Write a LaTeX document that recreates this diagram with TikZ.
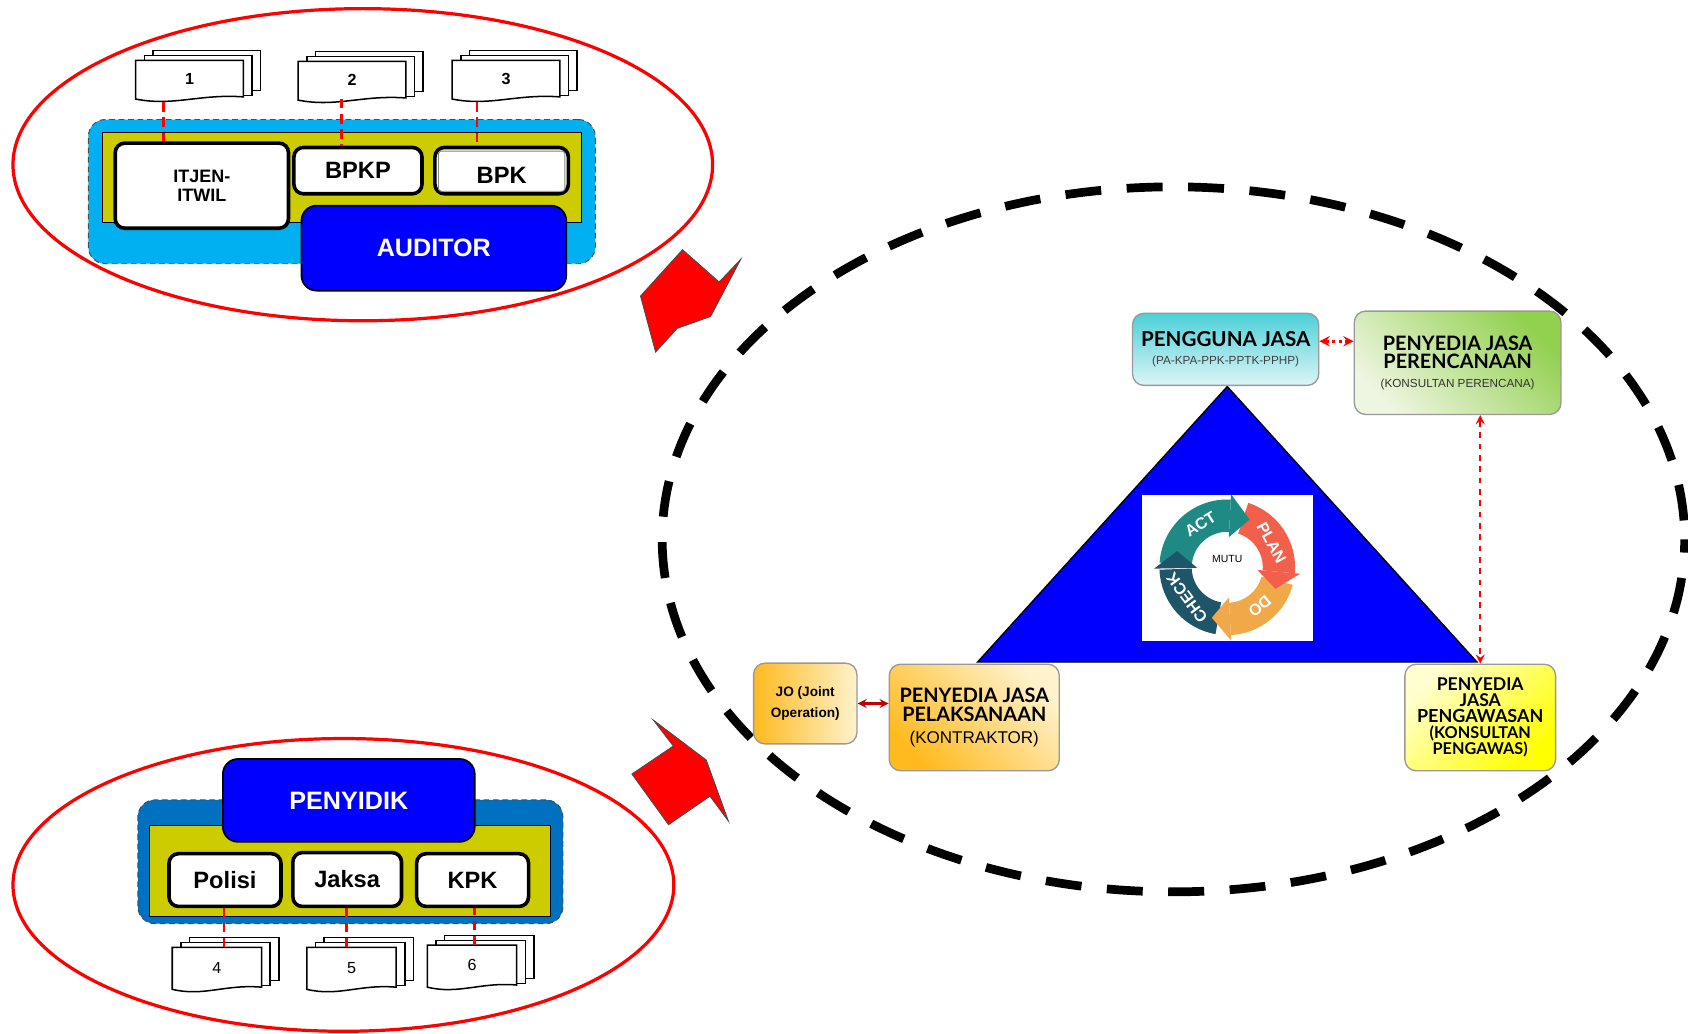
\documentclass[tikz,border=0pt]{standalone}
\usepackage{fontspec}
\setmainfont{Liberation Sans}
\newfontfamily\gillfont{Lato}
\usetikzlibrary{shapes.geometric}
\usetikzlibrary{arrows}
\definecolor{auditblue}{HTML}{00B0F0}
\definecolor{policeblue}{HTML}{0070C0}
\definecolor{olivefill}{HTML}{CCCC00}
\definecolor{actcol}{HTML}{1F8A84}
\definecolor{plancol}{HTML}{F2604C}
\definecolor{docol}{HTML}{F0A848}
\definecolor{checkcol}{HTML}{1F5568}
\definecolor{userdark}{HTML}{4DD0D8}
\definecolor{userlight}{HTML}{DDF5F7}
\definecolor{plandark}{HTML}{92D050}
\definecolor{planlight}{HTML}{EEF5E0}
\definecolor{builddark}{HTML}{FFBA1F}
\definecolor{buildlight}{HTML}{FFF2CC}
\definecolor{watchlight}{HTML}{FFFFD0}

% one stack of three pages: name, x, y, width, height, number
\newcommand{\docstack}[6]{
  \draw[docpage] (#2+16,#3-9) rectangle ++(#4,#5);
  \draw[docpage] (#2+8,#3-4.5) rectangle ++(#4,#5);
  \draw[docpage] (#2,#3) -- ++(#4,0) -- ++(0,#5-3)
     .. controls (#2+0.6*#4,#3+#5-6) and (#2+0.35*#4,#3+#5+6) .. (#2,#3+#5-1) -- cycle;
  \node[docnum] (#1) at (#2+0.5*#4,#3+0.47*#5) {#6};
}
% ring body and ring head of the cycle: start angle, end angle, colour
\newcommand{\ringbody}[3]{
  \fill[#3] (#1:63) arc[start angle=#1,end angle=#2,radius=63] -- (#2:33)
     arc[start angle=#2,end angle=#1,radius=33] -- cycle;
}
\newcommand{\ringhead}[3]{
  \fill[#3] (#1:28) -- (#1:68) -- (#2:49) -- cycle;
}

\begin{document}
\begin{tikzpicture}[
            x = 0.02cm,
            y = -0.02cm,
            > = stealth, % arrow head style
            semithick % line style
        ]

        \tikzstyle{groupring}=[draw = red, line width = 1.7pt]
        \tikzstyle{groupback}=[draw = black!70, densely dashed, line width = 0.5pt, rounded corners = 9pt]
        \tikzstyle{oliveback}=[draw = black, fill = olivefill, line width = 0.5pt]
        \tikzstyle{whitebox}=[draw = black, fill = white, line width = 1.9pt, rounded corners = 5pt,
            inner sep = 0pt, align = center, font = \bfseries\fontsize{12.5}{13}\selectfont]
        \tikzstyle{bluebox}=[draw = black, fill = blue, line width = 0.9pt, rounded corners = 8pt,
            text = white, font = \bfseries\fontsize{13.3}{14}\selectfont]
        \tikzstyle{docpage}=[draw = black, fill = white, line width = 0.8pt]
        \tikzstyle{docnum}=[inner sep = 0pt, font = \fontsize{8.5}{9}\selectfont]
        \tikzstyle{redlink}=[draw = red, dash pattern = on 5pt off 3pt, line width = 1.4pt]
        \tikzstyle{bigarrow}=[draw = black!70, fill = red, line width = 0.5pt]
        \tikzstyle{partybox}=[draw = black!40, line width = 0.7pt, rounded corners = 6pt,
            inner sep = 0pt, align = center, font = \gillfont\bfseries\fontsize{10.5}{9.7}\selectfont]
        \tikzstyle{pdcatext}=[inner sep = 0pt, text = white, font = \bfseries\fontsize{8.5}{8.5}\selectfont]

        \useasboundingbox (0,0) rectangle (1568,959.6);

	% auditor group
        \node[groupring, ellipse, minimum width = 13cm, minimum height = 5.8cm] (ringA) at (337,153) {};
        \node[groupback, fill = auditblue, minimum width = 9.42cm, minimum height = 2.68cm] (backA) at (317.5,178) {};
        \node[oliveback, minimum width = 8.9cm, minimum height = 1.68cm] (oliveA) at (317.5,165) {};
        \node[whitebox, minimum width = 3.22cm, minimum height = 1.58cm, font = \bfseries\fontsize{9.5}{10.2}\selectfont] (itjen) at (187.5,172.5) {ITJEN-\\ITWIL};
        \node[whitebox, minimum width = 2.38cm, minimum height = 0.86cm] (bpkp) at (332.5,158.5) {BPKP};
        \node[whitebox, minimum width = 2.48cm, minimum height = 0.86cm, text depth = 0pt] (bpk) at (466,158.5) {\raisebox{-1.7mm}{BPK}};
        \draw[gray, line width = 0.5pt, rounded corners = 1pt] ([shift = {(5,5)}]bpk.north west) rectangle ([shift = {(-5,-4)}]bpk.south east);
        \node[bluebox, minimum width = 4.92cm, minimum height = 1.58cm] (auditor) at (403,230.5) {AUDITOR};

        \docstack{doc1}{126}{56}{100}{37}{\textbf{1}}
        \docstack{doc2}{277}{57}{100}{37}{\textbf{2}}
        \docstack{doc3}{420}{56}{100}{37}{\textbf{3}}

        \coordinate (tap1) at (152,95);
        \coordinate (tap2) at (317,92);
        \coordinate (tap3) at (443,95);
        \path[redlink] (tap1) -- (tap1 |- itjen.north);
        \path[redlink] (tap2) -- (tap2 |- bpkp.north);
        \path[redlink] (tap3) -- (tap3 |- bpk.north);

	% investigator group
        \node[groupring, ellipse, minimum width = 12.28cm, minimum height = 5.44cm] (ringB) at (319,822) {};
        \node[groupback, fill = policeblue, minimum width = 7.9cm, minimum height = 2.3cm] (backB) at (325.5,800.5) {};
        \node[oliveback, minimum width = 7.44cm, minimum height = 1.68cm] (oliveB) at (325,809) {};
        \node[bluebox, minimum width = 4.68cm, minimum height = 1.54cm] (penyidik) at (324,743.5) {PENYIDIK};
        \node[whitebox, minimum width = 2.08cm, minimum height = 0.98cm] (polisi) at (209,817.5) {Polisi};
        \node[whitebox, minimum width = 2.02cm, minimum height = 1cm] (jaksa) at (322.5,817) {Jaksa};
        \node[whitebox, minimum width = 2.08cm, minimum height = 0.98cm] (kpk) at (439,817.5) {KPK};

        \docstack{doc4}{160}{880}{83}{40}{4}
        \docstack{doc5}{285}{880}{83}{40}{5}
        \docstack{doc6}{397}{878}{83}{40}{6}

        \coordinate (tap4) at (208,880);
        \coordinate (tap5) at (322,880);
        \coordinate (tap6) at (441,878);
        \path[redlink] (tap4) -- (tap4 |- polisi.south);
        \path[redlink] (tap5) -- (tap5 |- jaksa.south);
        \path[redlink] (tap6) -- (tap6 |- kpk.south);

        % big arrows
        \draw[bigarrow] (634,232) -- (668,262) -- (688,241) -- (660,294) -- (629,305) -- (609,327) -- (595,275) -- cycle;
        \draw[bigarrow] (607,669) -- (625.5,693) -- (587,719) -- (621,766) -- (659.5,739.5) -- (676.5,762.5) -- (656,706) -- cycle;

        % quality ring
        \node[draw = black, line width = 4.6pt, dash pattern = on 19pt off 13.5pt, dash phase = 22.5pt, ellipse, minimum width = 19cm, minimum height = 13.1cm] (ringC) at (1090,501) {};

        \coordinate (apex) at (1140,359);
        \coordinate (baseL) at (908,615);
        \coordinate (baseR) at (1372,615);
        \draw[fill = blue, line width = 0.7pt] (apex) -- (baseL) -- (baseR) -- cycle;
        \node[fill = white, minimum width = 3.18cm, minimum height = 2.7cm, inner sep = 0pt] (pdca) at (1140.5,527.5) {};

        \begin{scope}[shift = {(1140,527)}, x = 0.02cm, y = 0.02cm]
            \ringbody{176}{87}{actcol}
            \ringbody{72}{-5}{plancol}
            \ringbody{-15}{-87}{docol}
            \ringbody{-100}{-178}{checkcol}
            \ringhead{87}{65}{actcol}
            \ringhead{-5}{-24}{plancol}
            \ringhead{-87}{-107}{docol}
            \ringhead{181}{162}{checkcol}
            \node[pdcatext, rotate = 32] (act) at (122:47) {ACT};
            \node[pdcatext, rotate = -61] (plan) at (29:47) {PLAN};
            \node[pdcatext, rotate = -140] (do) at (-50:47) {DO};
            \node[pdcatext, rotate = 127] (check) at (217:47) {CHECK};
            \node[inner sep = 0pt, font = \fontsize{5.5}{6}\selectfont] (mutu) at (0,8) {MUTU};
        \end{scope}

        % parties
        \node[partybox, top color = userdark, bottom color = userlight, minimum width = 3.46cm, minimum height = 1.34cm, font = \gillfont\bfseries\fontsize{10.9}{9.7}\selectfont] (pengguna) at (1138.5,324.5)
            {PENGGUNA JASA\\\color{black!75}\normalfont\fontsize{6.2}{7}\selectfont (PA-KPA-PPK-PPTK-PPHP)};
        \node[partybox, top color = plandark, bottom color = planlight, shading angle = -45, minimum width = 3.84cm, minimum height = 1.92cm] (perencana) at (1354,337)
            {PENYEDIA JASA\\PERENCANAAN\\\color{black!80}\normalfont\fontsize{6.2}{7}\selectfont (KONSULTAN PERENCANA)};
        \node[partybox, left color = builddark, right color = buildlight, minimum width = 1.92cm, minimum height = 1.5cm, font = \bfseries\fontsize{7.2}{11.3}\selectfont] (jo) at (748,653.5)
            {JO (Joint\\Operation)};
        \node[partybox, top color = buildlight, bottom color = builddark, shading angle = -45, minimum width = 3.16cm, minimum height = 1.98cm] (kontraktor) at (905,666.5)
            {PENYEDIA JASA\\PELAKSANAAN\\[2pt]\normalfont\fontsize{9}{10}\selectfont (KONTRAKTOR)};
        \node[partybox, top color = watchlight, bottom color = yellow, shading angle = 45, minimum width = 2.8cm, minimum height = 1.98cm, font = \gillfont\bfseries\fontsize{9.3}{8.5}\selectfont] (pengawas) at (1375,666.5)
            {PENYEDIA\\JASA\\\fontsize{9.5}{8.5}\selectfont PENGAWASAN\\\fontsize{8.6}{8.5}\selectfont (KONSULTAN\\\fontsize{8.6}{8.5}\selectfont PENGAWAS)};

        \draw[<->, red, dotted, line width = 1.4pt] (pengguna.east |- 0,317) -- (perencana.west |- 0,317);
        \draw[<->, red!75!black, line width = 1.1pt] (jo) -- (kontraktor.west |- jo);
        \draw[<->, red, dashed, line width = 1.1pt] (perencana.south -| pengawas.north) -- (pengawas.north);

\end{tikzpicture}
\end{document}
